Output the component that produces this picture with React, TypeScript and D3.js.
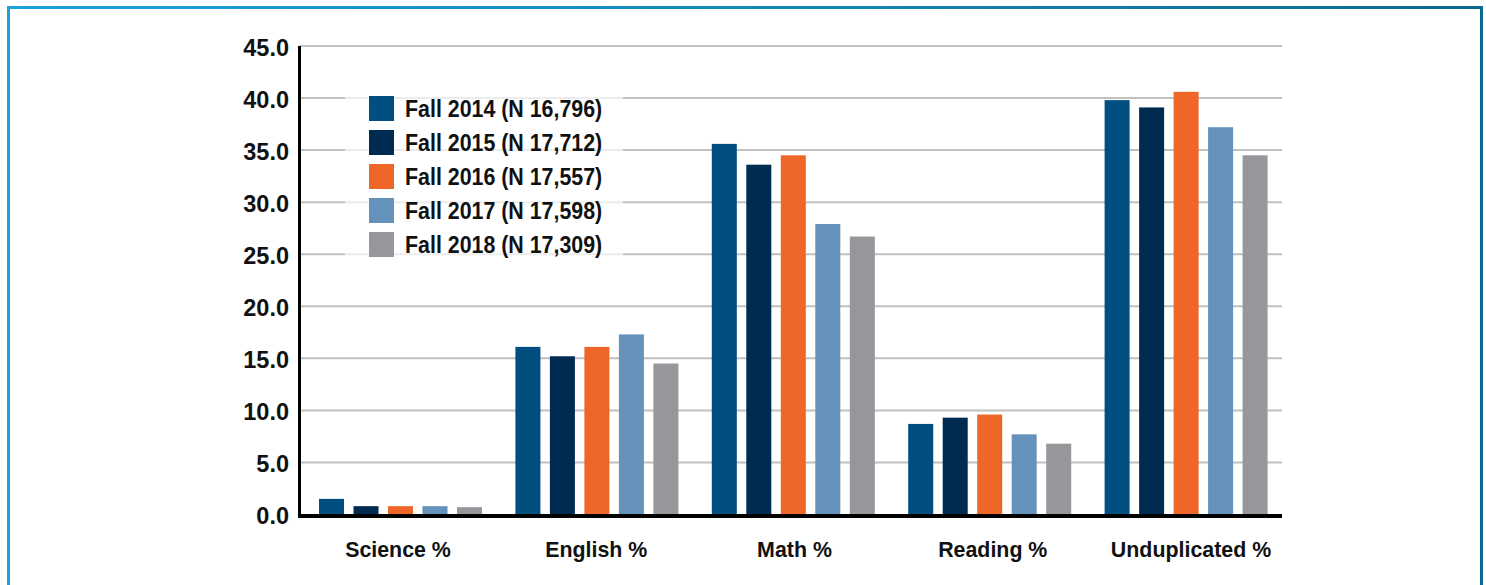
import React, { useEffect, useRef } from 'react';
import * as d3 from 'd3';

// categories along the x axis
const categories = ['Science %', 'English %', 'Math %', 'Reading %', 'Unduplicated %'];

// one series per fall term
const seriesNames = [
  'Fall 2014 (N 16,796)',
  'Fall 2015 (N 17,712)',
  'Fall 2016 (N 17,557)',
  'Fall 2017 (N 17,598)',
  'Fall 2018 (N 17,309)',
];

const fall2014 = [1.5, 16.1, 35.6, 8.7, 39.8];
const fall2015 = [0.8, 15.2, 33.6, 9.3, 39.1];
const fall2016 = [0.8, 16.1, 34.5, 9.6, 40.6];
const fall2017 = [0.8, 17.3, 27.9, 7.7, 37.2];
const fall2018 = [0.7, 14.5, 26.7, 6.8, 34.5];

const seriesValues = [fall2014, fall2015, fall2016, fall2017, fall2018];
const colors = ['#004f80', '#002b50', '#ef6629', '#6592bb', '#96979b'];

const yTicks = [0, 5, 10, 15, 20, 25, 30, 35, 40, 45];

const App: React.FC = () => {
  const svgRef = useRef<SVGSVGElement | null>(null);

  useEffect(() => {
    if (!svgRef.current) return;

    const width = 1486;
    const height = 585;
    const marginLeft = 300;
    const marginRight = 204;
    const marginTop = 46;
    const marginBottom = 70.5;
    const font = '"Liberation Sans", Arial, sans-serif';

    const svg = d3.select(svgRef.current)
      .attr('width', width)
      .attr('height', height)
      .attr('viewBox', `0 0 ${width} ${height}`);

    svg.selectAll('*').remove();

    // frame with a blue gradient
    const grad = svg.append('defs').append('linearGradient')
      .attr('id', 'frameGrad')
      .attr('gradientUnits', 'userSpaceOnUse')
      .attr('x1', 0).attr('x2', width).attr('y1', 0).attr('y2', 0);
    grad.append('stop').attr('offset', '0%').attr('stop-color', '#1aa2d9');
    grad.append('stop').attr('offset', '55%').attr('stop-color', '#1586b8');
    grad.append('stop').attr('offset', '100%').attr('stop-color', '#0b6a8f');

    svg.append('rect')
      .attr('x', 8.5).attr('y', 7.5)
      .attr('width', 1473).attr('height', 620)
      .attr('fill', '#fff')
      .attr('stroke', 'url(#frameGrad)')
      .attr('stroke-width', 3);

    const x0 = d3.scaleBand<string>()
      .domain(categories)
      .range([marginLeft, width - marginRight]);

    const x1 = d3.scaleBand<string>()
      .domain(seriesNames)
      .range([19, 182])
      .paddingInner(0.275);

    // category labels sit a touch right of the bar groups
    const xLabel = d3.scalePoint<string>()
      .domain(categories)
      .range([398, 1191]);

    const y = d3.scaleLinear()
      .domain([0, 45])
      .range([height - marginBottom, marginTop]);

    // gridlines
    svg.append('g')
      .selectAll('line')
      .data(yTicks.filter(t => t > 0))
      .join('line')
      .attr('x1', marginLeft)
      .attr('x2', width - marginRight)
      .attr('y1', d => y(d))
      .attr('y2', d => y(d))
      .attr('stroke', '#c0c0c0')
      .attr('stroke-width', 2);

    // legend backdrop (gridlines show faintly through it)
    svg.append('rect')
      .attr('x', 345).attr('y', 84)
      .attr('width', 278).attr('height', 186)
      .attr('fill', '#fff')
      .attr('fill-opacity', 0.7);

    // bars
    svg.append('g')
      .selectAll('g')
      .data(seriesNames)
      .join('g')
      .attr('fill', (_, i) => colors[i])
      .selectAll('rect')
      .data((_, i) => seriesValues[i].map((v, j) => ({ cat: categories[j], s: seriesNames[i], v })))
      .join('rect')
      .attr('x', d => (x0(d.cat) as number) + (x1(d.s) as number))
      .attr('width', x1.bandwidth())
      .attr('y', d => y(d.v))
      .attr('height', d => y(0) - y(d.v));

    // y axis
    svg.append('line')
      .attr('x1', marginLeft - 0.5).attr('x2', marginLeft - 0.5)
      .attr('y1', marginTop).attr('y2', y(0) + 3)
      .attr('stroke', '#000')
      .attr('stroke-width', 3);

    svg.append('g')
      .selectAll('text')
      .data(yTicks)
      .join('text')
      .attr('x', 289)
      .attr('y', d => y(d) + 1.5)
      .attr('text-anchor', 'end')
      .attr('dominant-baseline', 'central')
      .attr('font-family', font)
      .attr('font-weight', 'bold')
      .attr('font-size', 23.5)
      .attr('fill', '#111')
      .text(d => d.toFixed(1));

    // x axis
    svg.append('line')
      .attr('x1', marginLeft - 2).attr('x2', width - marginRight)
      .attr('y1', y(0) + 1.5).attr('y2', y(0) + 1.5)
      .attr('stroke', '#000')
      .attr('stroke-width', 4);

    svg.append('g')
      .selectAll('text')
      .data(categories)
      .join('text')
      .attr('transform', d => `translate(${xLabel(d)},557) scale(0.93,1)`)
      .attr('text-anchor', 'middle')
      .attr('font-family', font)
      .attr('font-weight', 'bold')
      .attr('font-size', 23)
      .attr('fill', '#111')
      .text(d => d);

    // legend
    const legend = svg.append('g')
      .selectAll('g')
      .data(seriesNames)
      .join('g')
      .attr('transform', (_, i) => `translate(369,${96 + i * 34})`);

    legend.append('rect')
      .attr('width', 25)
      .attr('height', 25)
      .attr('fill', (_, i) => colors[i]);

    legend.append('text')
      .attr('transform', 'translate(36,21) scale(0.91,1)')
      .attr('font-family', font)
      .attr('font-weight', 'bold')
      .attr('font-size', 23.5)
      .attr('fill', '#111')
      .text(d => d);
  }, []);

  return (
    <svg ref={svgRef} style={{ position: 'absolute', left: 0, top: 0, display: 'block' }}></svg>
  );
};

export default App;
